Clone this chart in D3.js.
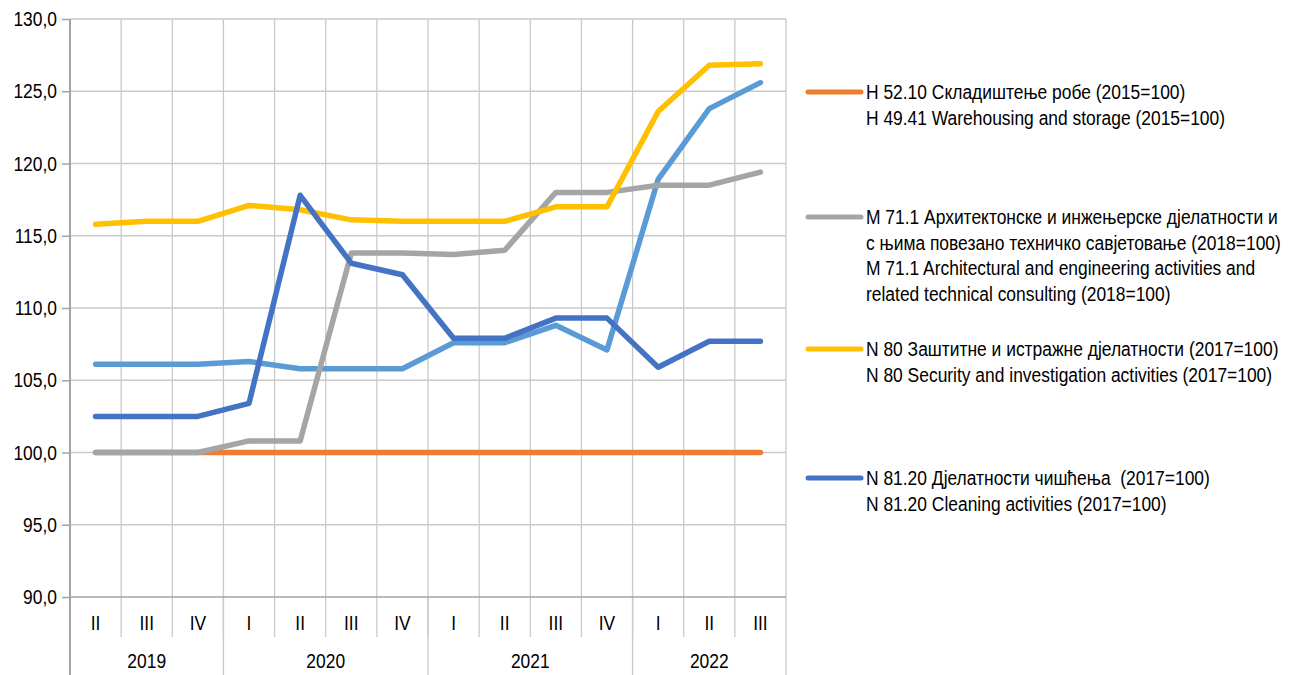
<!DOCTYPE html>
<meta charset="utf-8">
<script src="https://cdn.jsdelivr.net/npm/d3@7"></script>
<style>
  body { margin: 0; background: #fff; }
  svg { font-family: "Liberation Sans", Arial, sans-serif; }
  .axis text { font-size: 21px; fill: #000; }
  .legend text { font-size: 21px; fill: #000; white-space: pre; }
</style>
<div id="chart"></div>
<script>
// quarters on the x axis, with the year each one belongs to
var quarters = ["II", "III", "IV", "I", "II", "III", "IV", "I", "II", "III", "IV", "I", "II", "III"];
var quarterYears = ["2019", "2019", "2019", "2020", "2020", "2020", "2020", "2021", "2021", "2021", "2021", "2022", "2022", "2022"];
var years = ["2019", "2020", "2021", "2022"];
var yTicks = [90, 95, 100, 105, 110, 115, 120, 125, 130];

// index values
var unlabelled = [106.1, 106.1, 106.1, 106.3, 105.8, 105.8, 105.8, 107.6, 107.6, 108.8, 107.1, 118.9, 123.8, 125.6];
var warehousing = [100.0, 100.0, 100.0, 100.0, 100.0, 100.0, 100.0, 100.0, 100.0, 100.0, 100.0, 100.0, 100.0, 100.0];
var architecture = [100.0, 100.0, 100.0, 100.8, 100.8, 113.8, 113.8, 113.7, 114.0, 118.0, 118.0, 118.5, 118.5, 119.4];
var security = [115.8, 116.0, 116.0, 117.1, 116.8, 116.1, 116.0, 116.0, 116.0, 117.0, 117.0, 123.6, 126.8, 126.9];
var cleaning = [102.5, 102.5, 102.5, 103.4, 117.8, 113.1, 112.3, 107.9, 107.9, 109.3, 109.3, 105.9, 107.7, 107.7];

var seriesNames = [
  ["H 52.10 Складиштење робе (2015=100)", "H 49.41 Warehousing and storage (2015=100)"],
  ["M 71.1 Архитектонске и инжењерске дјелатности и", "с њима повезано техничко савјетовање (2018=100)",
   "M 71.1 Architectural and engineering activities and", "related technical consulting (2018=100)"],
  ["N 80 Заштитне и истражне дјелатности (2017=100)", "N 80 Security and investigation activities (2017=100)"],
  ["N 81.20 Дјелатности чишћења  (2017=100)", "N 81.20 Cleaning activities (2017=100)"]
];

var W = 1298, H = 675;
var plotL = 70, plotR = 786, plotT = 19, plotB = 597;
var narrow = 0.83; // squeeze text horizontally, the original uses a narrow face

var svg = d3.select("#chart").append("svg")
  .attr("width", W).attr("height", H);

var idx = d3.range(quarters.length);
var x = d3.scaleBand().domain(idx).range([plotL, plotR]).padding(0);
var y = d3.scaleLinear().domain([90, 130]).range([plotB, plotT]);
var fmt = d3.formatLocale({ decimal: ",", thousands: ".", grouping: [3], currency: ["", ""] }).format(".1f");

var gridColor = "#c9c9c9", axisColor = "#a3a3a3";

// horizontal gridlines
svg.append("g").selectAll("line").data(yTicks.filter(function(d) { return d > 90; })).enter()
  .append("line")
  .attr("x1", plotL).attr("x2", plotR)
  .attr("y1", function(d) { return y(d); }).attr("y2", function(d) { return y(d); })
  .attr("stroke", gridColor).attr("stroke-width", 1.3);

// vertical gridlines at the quarter boundaries
svg.append("g").selectAll("line").data(idx.slice(1).concat([quarters.length])).enter()
  .append("line")
  .attr("x1", function(d) { return d < quarters.length ? x(d) : plotR; })
  .attr("x2", function(d) { return d < quarters.length ? x(d) : plotR; })
  .attr("y1", plotT).attr("y2", plotB)
  .attr("stroke", gridColor).attr("stroke-width", 1.3);

// y axis
var yAxis = svg.append("g").attr("class", "axis")
  .attr("transform", "translate(" + plotL + ",0)")
  .call(d3.axisLeft(y).tickValues(yTicks).tickSize(8).tickPadding(5).tickFormat(fmt));
yAxis.select(".domain").remove();
yAxis.selectAll(".tick line").attr("stroke", axisColor).attr("stroke-width", 1.5);
yAxis.selectAll(".tick text").attr("x", -13 / narrow).attr("transform", "scale(" + narrow + ",1)");

// bottom axis: quarter labels
var xAxis = svg.append("g").attr("class", "axis")
  .attr("transform", "translate(0," + plotB + ")")
  .call(d3.axisBottom(x).tickSize(0).tickPadding(18).tickFormat(function(i) { return quarters[i]; }));
xAxis.select(".domain").remove();
xAxis.selectAll(".tick text").attr("transform", "scale(" + narrow + ",1)");

// quarter separators
svg.append("g").selectAll("line").data(idx.slice(1)).enter()
  .append("line")
  .attr("x1", function(d) { return x(d); }).attr("x2", function(d) { return x(d); })
  .attr("y1", plotB).attr("y2", plotB + 40)
  .attr("stroke", gridColor).attr("stroke-width", 1.3);

// year separators and labels
var yearSpans = years.map(function(yr) {
  var ids = idx.filter(function(i) { return quarterYears[i] === yr; });
  return { year: yr, x0: x(ids[0]), x1: x(ids[ids.length - 1]) + x.bandwidth() };
});
var bounds = [plotL].concat(yearSpans.map(function(s) { return s.x1; }));
svg.append("g").selectAll("line").data(bounds).enter()
  .append("line")
  .attr("x1", function(d) { return d; }).attr("x2", function(d) { return d; })
  .attr("y1", function(d, i) { return i === 0 ? plotT : plotB; })
  .attr("y2", H)
  .attr("stroke", function(d, i) { return i === 0 ? axisColor : gridColor; })
  .attr("stroke-width", function(d, i) { return i === 0 ? 2 : 1.3; });
svg.append("g").attr("class", "axis").selectAll("text").data(yearSpans).enter()
  .append("text")
  .attr("transform", function(d) { return "translate(" + ((d.x0 + d.x1) / 2) + ",668) scale(" + narrow + ",1)"; })
  .attr("text-anchor", "middle")
  .text(function(d) { return d.year; });

// x axis line
svg.append("line")
  .attr("x1", plotL).attr("x2", plotR).attr("y1", plotB).attr("y2", plotB)
  .attr("stroke", axisColor).attr("stroke-width", 1.5);

// series lines (unlabelled light blue underneath)
var series = [
  { values: unlabelled, color: "#5B9BD5" },
  { values: warehousing, color: "#ED7D31" },
  { values: architecture, color: "#A5A5A5" },
  { values: security, color: "#FFC000" },
  { values: cleaning, color: "#4472C4" }
];
var line = d3.line()
  .x(function(d, i) { return x(i) + x.bandwidth() / 2; })
  .y(function(d) { return y(d); });
svg.append("g").selectAll("path").data(series).enter()
  .append("path")
  .attr("d", function(s) { return line(s.values); })
  .attr("fill", "none")
  .attr("stroke", function(s) { return s.color; })
  .attr("stroke-width", 5.5)
  .attr("stroke-linecap", "round")
  .attr("stroke-linejoin", "round");

// legend
var legendItems = [
  { color: "#ED7D31", y: 92, lines: seriesNames[0] },
  { color: "#A5A5A5", y: 217, lines: seriesNames[1] },
  { color: "#FFC000", y: 349, lines: seriesNames[2] },
  { color: "#4472C4", y: 478, lines: seriesNames[3] }
];
var lg = svg.append("g").attr("class", "legend").selectAll("g").data(legendItems).enter()
  .append("g")
  .attr("transform", function(d) { return "translate(0," + d.y + ")"; });
lg.append("line")
  .attr("x1", 808).attr("x2", 861).attr("y1", 0).attr("y2", 0)
  .attr("stroke", function(d) { return d.color; })
  .attr("stroke-width", 5).attr("stroke-linecap", "round");
lg.each(function(d) {
  d3.select(this).selectAll("text").data(d.lines).enter()
    .append("text")
    .attr("transform", function(t, i) { return "translate(866," + (i * 25.5 + 7) + ") scale(" + narrow + ",1)"; })
    .text(function(t) { return t; });
});
</script>
